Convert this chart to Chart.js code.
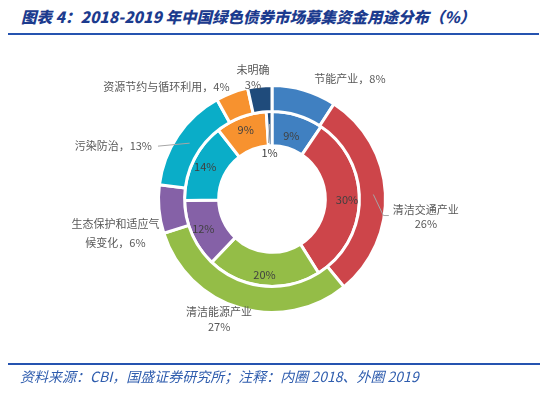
<!DOCTYPE html>
<html>
<head>
<meta charset="utf-8">
<script src="https://cdn.jsdelivr.net/npm/chart.js@4.4.1/dist/chart.umd.min.js"></script>
<style>
  html, body { margin: 0; padding: 0; background: #fff; }
  #wrap { position: relative; width: 550px; height: 394px; overflow: hidden; font-family: "Noto Sans CJK SC", "Noto Sans", sans-serif; }
  #title { position: absolute; left: 21px; top: 5px; font-size: 15.5px; font-weight: 900; font-style: italic; color: #1C3B8E; white-space: nowrap; }
  #line1 { position: absolute; left: 8px; top: 33px; width: 531px; height: 2px; background: #2553B0; }
  #line2 { position: absolute; left: 8px; top: 363px; width: 532px; height: 2px; background: #2553B0; }
  #foot { position: absolute; left: 20px; top: 366px; font-size: 14px; font-style: italic; color: #2F5DAE; white-space: nowrap; }
  canvas { position: absolute; left: 0; top: 0; }
</style>
</head>
<body>
<div id="wrap">
  <div id="title">图表 4：2018-2019 年中国绿色债券市场募集资金用途分布（%）</div>
  <div id="line1"></div>
  <canvas id="c" width="550" height="394"></canvas>
  <div id="line2"></div>
  <div id="foot">资料来源：CBI，国盛证券研究所；注释：内圈 2018、外圈 2019</div>
</div>
<script>
// ---- data ----
const categories = ['节能产业', '清洁交通产业', '清洁能源产业', '生态保护和适应气候变化', '污染防治', '资源节约与循环利用', '未明确'];
const values2019 = [8, 26, 27, 6, 13, 4, 3];   // outer ring
const values2018 = [9, 30, 20, 12, 14, 9, 1];  // inner ring
const colors = ['#4080C1', '#CD454A', '#94BD47', '#8561A7', '#0AADC8', '#F7922F', '#1F4B7B'];

// outer label text lines (category + 2019 value)
const outerLabelLines = [
  [categories[0] + '，' + values2019[0] + '%'],
  [categories[1], values2019[1] + '%'],
  [categories[2], values2019[2] + '%'],
  ['生态保护和适应气', '候变化，' + values2019[3] + '%'],
  [categories[4] + '，' + values2019[4] + '%'],
  [categories[5] + '，' + values2019[5] + '%'],
  [categories[6], values2019[6] + '%']
];
// label layout: offset of first text line from arc mid-point on outer edge
const outerLabelLayout = [
  {dx: 46, dy: -13, lh: 15},
  {dx: 42, dy: 17, lh: 14, leader: 'bent'},
  {dx: -21, dy: 5, lh: 15},
  {dx: -45, dy: 15, lh: 19},
  {dx: -66, dy: 10, lh: 15, leader: 'straight'},
  {dx: -66, dy: -7, lh: 15},
  {dx: -7, dy: -18, lh: 15}
];
const innerLabelR = [66, 75, 76, 75, 74, 74, null];

const labelPlugin = {
  id: 'ringLabels',
  afterDatasetsDraw(chart) {
    const ctx = chart.ctx;
    const outerMeta = chart.getDatasetMeta(0);
    const innerMeta = chart.getDatasetMeta(1);
    ctx.save();
    ctx.font = '11px "Noto Sans CJK SC", sans-serif';
    ctx.textAlign = 'center';
    ctx.textBaseline = 'middle';

    const pt = (arc, r) => {
      const a = (arc.startAngle + arc.endAngle) / 2;
      return {x: arc.x + Math.cos(a) * r, y: arc.y + Math.sin(a) * r};
    };

    // outer labels
    outerMeta.data.forEach((arc, i) => {
      const p = pt(arc, arc.outerRadius - 1.5);
      const L = outerLabelLayout[i];
      const tx = p.x + L.dx, ty = p.y + L.dy;
      const lines = outerLabelLines[i];
      ctx.fillStyle = '#595959';
      lines.forEach((t, k) => ctx.fillText(t, tx, ty + k * L.lh));
      ctx.strokeStyle = '#A6A6A6';
      ctx.lineWidth = 1;
      if (L.leader === 'straight') {
        const s = pt(arc, arc.outerRadius - 14);
        const w = ctx.measureText(lines[0]).width;
        ctx.beginPath();
        ctx.moveTo(s.x, s.y);
        ctx.lineTo(tx + w / 2 + 6, ty);
        ctx.stroke();
      } else if (L.leader === 'bent') {
        const s = pt(arc, arc.outerRadius - 12);
        const w = ctx.measureText(lines[0]).width;
        const ey = ty + L.lh * 0.4;
        ctx.beginPath();
        ctx.moveTo(s.x, s.y + 1);
        ctx.lineTo(s.x + 10, ey);
        ctx.lineTo(tx - w / 2 - 4, ey);
        ctx.stroke();
      }
    });

    // inner labels
    ctx.fillStyle = '#404040';
    innerMeta.data.forEach((arc, i) => {
      const txt = values2018[i] + '%';
      if (innerLabelR[i] !== null) {
        const p = pt(arc, innerLabelR[i]);
        ctx.fillText(txt, p.x, p.y);
      } else {
        const s = pt(arc, 75);
        ctx.strokeStyle = '#A6A6A6';
        ctx.lineWidth = 1;
        ctx.beginPath();
        ctx.moveTo(s.x, s.y);
        ctx.lineTo(s.x - 1, arc.y - 56);
        ctx.stroke();
        ctx.fillStyle = '#404040';
        ctx.fillText(txt, s.x, arc.y - 46);
      }
    });
    ctx.restore();
  }
};

new Chart(document.getElementById('c'), {
  type: 'doughnut',
  data: {
    labels: categories,
    datasets: [
      {label: '2019', data: values2019, backgroundColor: colors, borderColor: '#ffffff', borderWidth: 3, weight: 26},
      {label: '2018', data: values2018, backgroundColor: colors, borderColor: '#ffffff', borderWidth: 3, weight: 34}
    ]
  },
  options: {
    responsive: false,
    animation: false,
    cutout: '47%',
    layout: {padding: {left: 157, right: 163, top: 84, bottom: 80}},
    plugins: {legend: {display: false}, tooltip: {enabled: false}, title: {display: false}}
  },
  plugins: [labelPlugin]
});
</script>
</body>
</html>
